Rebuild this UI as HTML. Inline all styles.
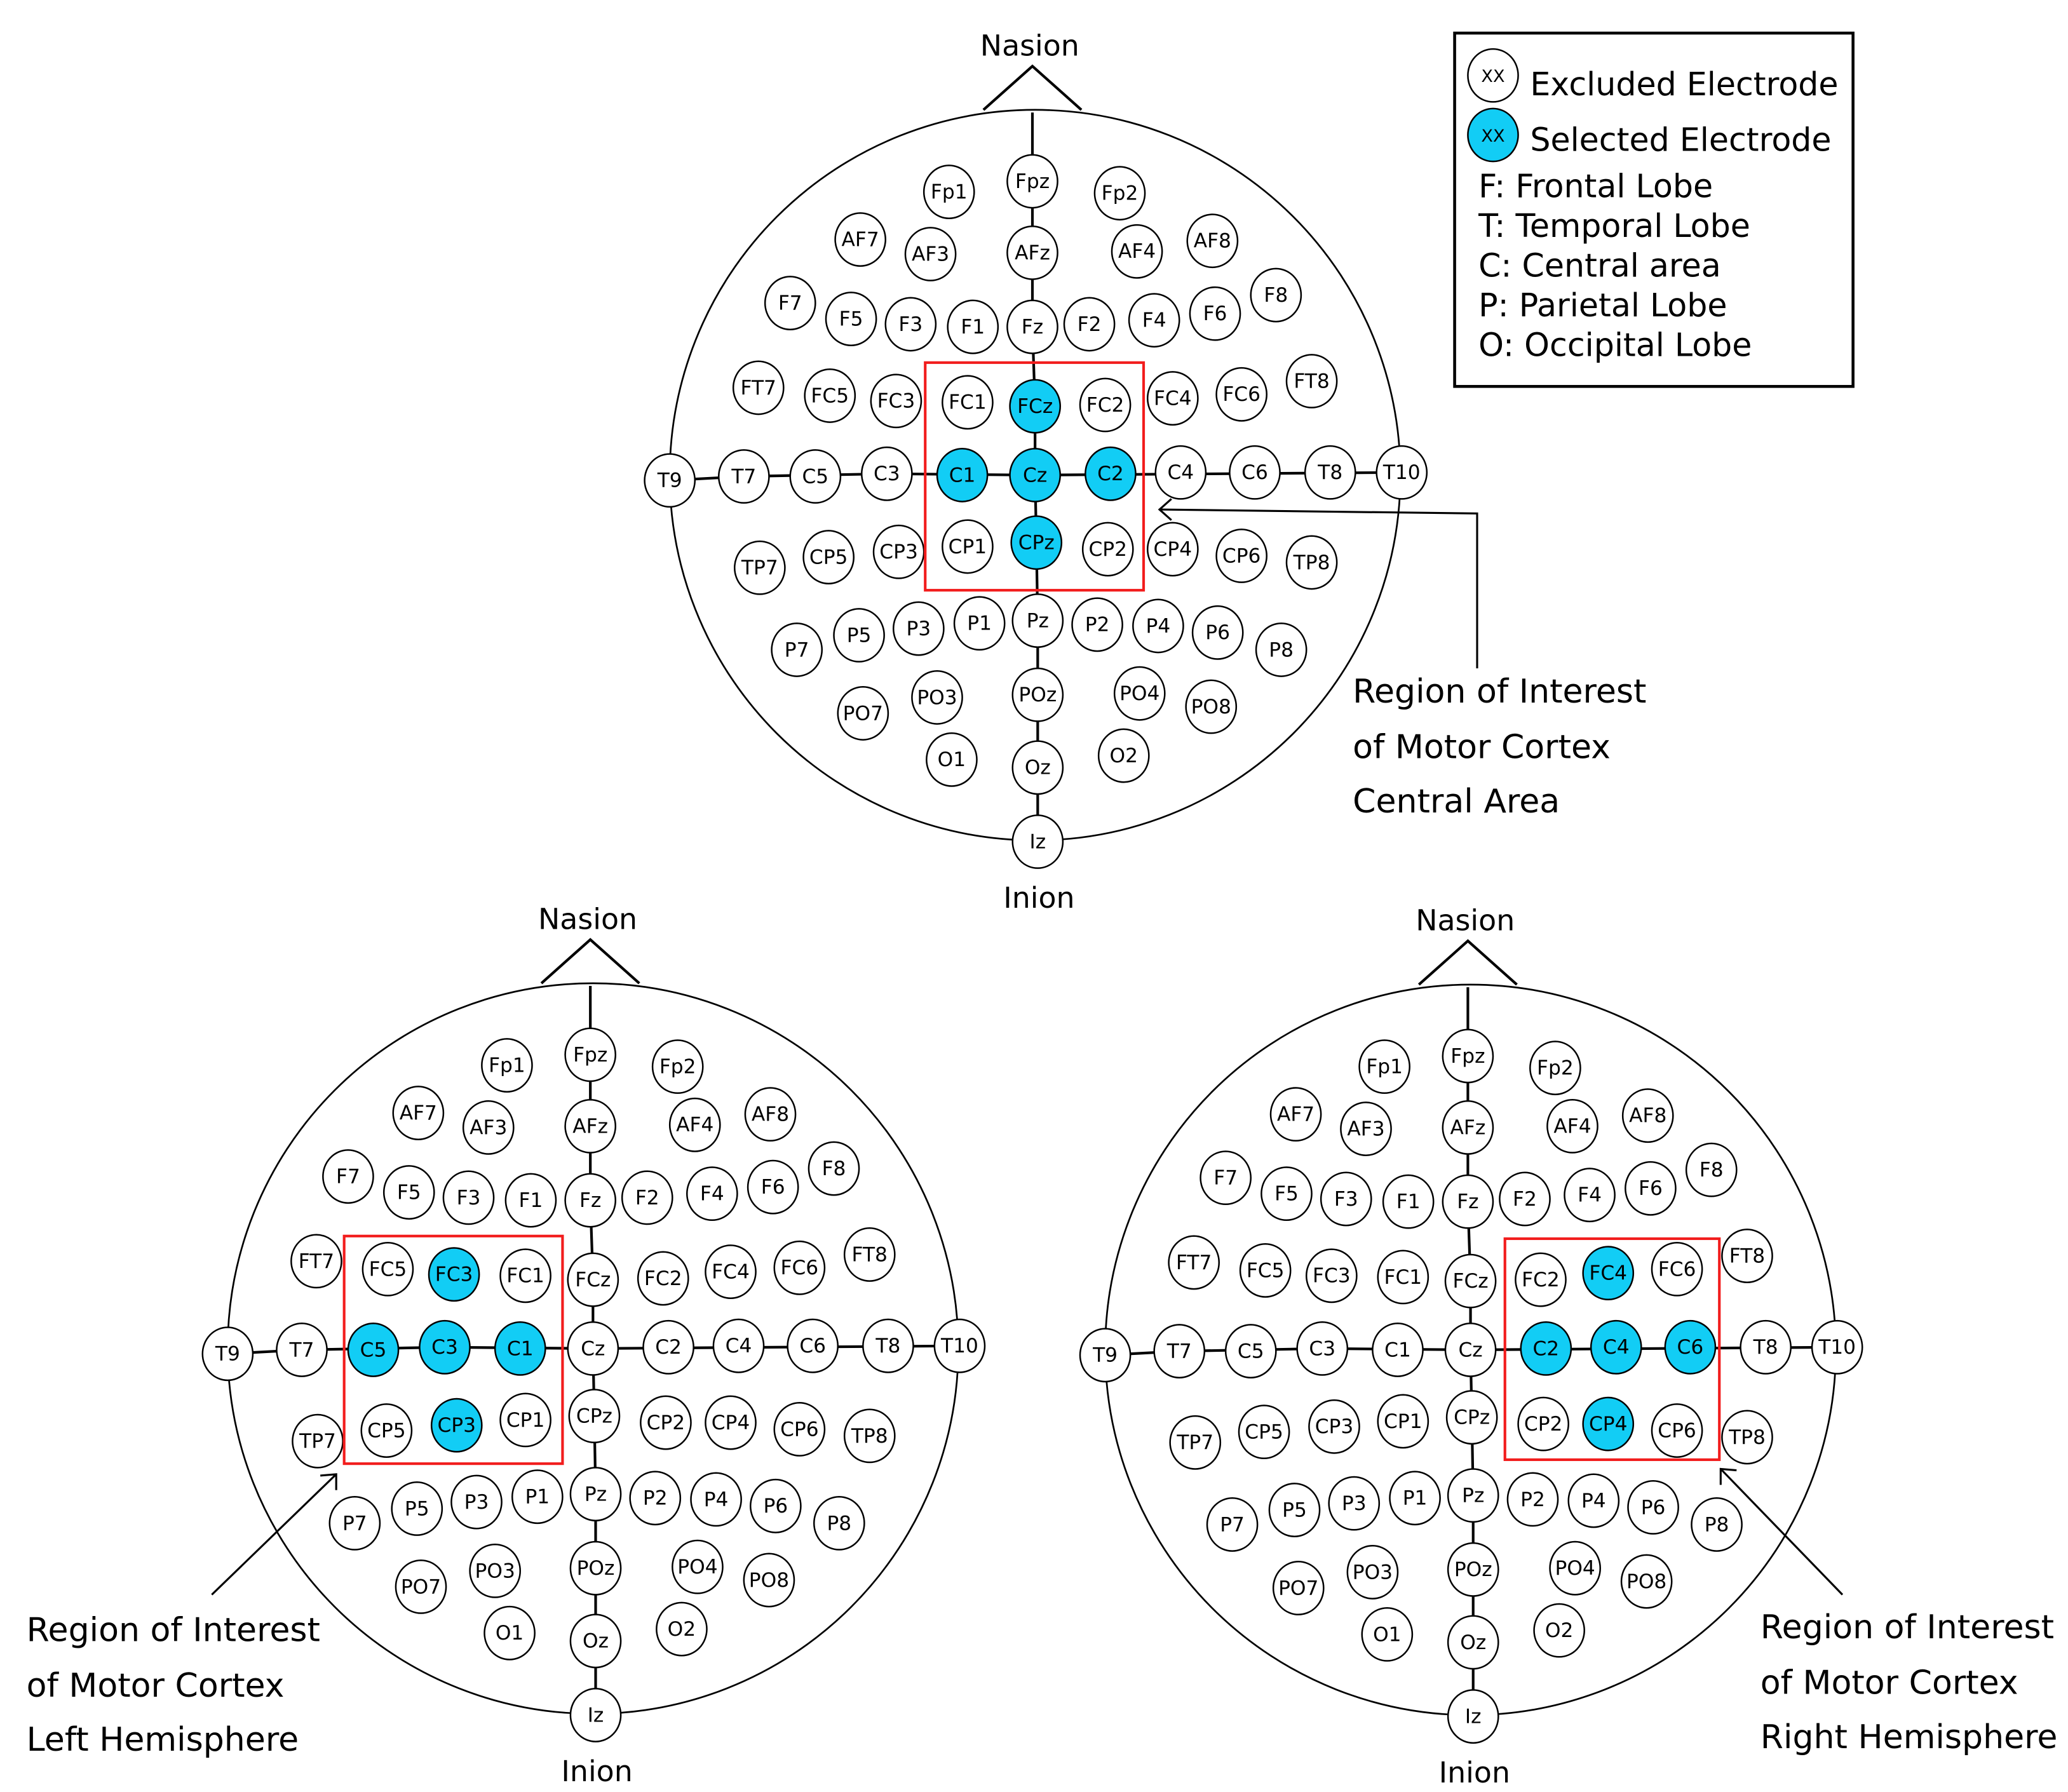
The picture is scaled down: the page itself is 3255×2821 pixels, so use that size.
<!DOCTYPE html>
<html><head><meta charset="utf-8"><style>
html,body{margin:0;padding:0;background:#fff;}
svg{display:block;}
text{font-family:"DejaVu Sans","Liberation Sans",sans-serif;fill:#000;}
</style></head><body>
<svg id="s" width="3255" height="2821" viewBox="0 0 1562.4 1354.1" xmlns="http://www.w3.org/2000/svg">
<rect x="0" y="0" width="1562.4" height="1354.1" fill="#fff"/>
<g id="g"></g>
<!-- legend -->
<rect x="1099" y="25" width="301" height="267" fill="none" stroke="#000" stroke-width="2.2"/>
<ellipse cx="1128" cy="57" rx="19" ry="20" fill="#fff" stroke="#000" stroke-width="1.2"/>
<text x="1128" y="62" font-size="13" text-anchor="middle">XX</text>
<ellipse cx="1128" cy="102" rx="19" ry="20" fill="#12cdf5" stroke="#000" stroke-width="1.2"/>
<text x="1128" y="107" font-size="13" text-anchor="middle">XX</text>
<text x="1156" y="72" font-size="24.3">Excluded Electrode</text>
<text x="1156" y="114" font-size="24.3">Selected Electrode</text>
<text x="1117" y="149" font-size="24.3">F: Frontal Lobe</text>
<text x="1117" y="179" font-size="24.3">T: Temporal Lobe</text>
<text x="1117" y="209" font-size="24.3">C: Central area</text>
<text x="1117" y="239" font-size="24.3">P: Parietal Lobe</text>
<text x="1117" y="269" font-size="24.3">O: Occipital Lobe</text>
</svg>
<script>
var E=[["Fp1",717,145],["Fpz",780,137],["Fp2",846,146],
["AF7",650,181],["AF3",703,192],["AFz",780,191],["AF4",859,190],["AF8",916,182],
["F7",597,229],["F5",643,241],["F3",688,245],["F1",735,247],["Fz",780,247],["F2",823,245],["F4",872,242],["F6",918,237],["F8",964,223],
["FT7",573,293],["FC5",627,299],["FC3",677,303],["FC1",731,304],["FCz",782,307],["FC2",835,306],["FC4",886,301],["FC6",938,298],["FT8",991,288],
["T9",506,363],["T7",562,360],["C5",616,360],["C3",670,358],["C1",727,359],["Cz",782,359],["C2",839,358],["C4",892,357],["C6",948,357],["T8",1005,357],["T10",1059,357],
["TP7",574,429],["CP5",626,421],["CP3",679,417],["CP1",731,413],["CPz",783,410],["CP2",837,415],["CP4",886,415],["CP6",938,420],["TP8",991,425],
["P7",602,491],["P5",649,480],["P3",694,475],["P1",740,471],["Pz",784,469],["P2",829,472],["P4",875,473],["P6",920,478],["P8",968,491],
["PO7",652,539],["PO3",708,527],["POz",784,525],["PO4",861,524],["PO8",915,534],
["O1",719,574],["Oz",784,580],["O2",849,571],["Iz",784,636]];
var heads=[
 {dx:0,dy:0,sel:["FCz","C1","Cz","C2","CPz"],rect:[699,274,165,172],
  arrow:"M1116,505 L1116,388 L876,385",ah:[876,385,"l"],tx:1022,ty:[531,573,614],t3:"Central Area"},
 {dx:-334,dy:660,sel:["FC3","C5","C3","C1","CP3"],rect:[260,934,165,172],
  arrow:"M160,1205 L254,1114",ah:[254,1114,"d"],tx:20,ty:[1240,1282,1323],t3:"Left Hemisphere"},
 {dx:329,dy:661,sel:["FC4","C2","C4","C6","CP4"],rect:[1137,936,162,167],
  arrow:"M1392,1205 L1300,1110",ah:[1300,1110,"d2"],tx:1330,ty:[1238,1280,1321],t3:"Right Hemisphere"}];
var s="";
heads.forEach(function(h){
 var X=function(x){return x+h.dx},Y=function(y){return y+h.dy};
 s+='<circle cx="'+X(782)+'" cy="'+Y(359)+'" r="276" fill="none" stroke="#000" stroke-width="1.3"/>';
 s+='<polyline points="'+X(743)+','+Y(83)+' '+X(780)+','+Y(50)+' '+X(817)+','+Y(83)+'" fill="none" stroke="#000" stroke-width="2"/>';
 s+='<text x="'+X(778)+'" y="'+Y(42)+'" font-size="22" text-anchor="middle">Nasion</text>';
 s+='<text x="'+X(785)+'" y="'+Y(686)+'" font-size="22" text-anchor="middle">Inion</text>';
 s+='<polyline points="'+X(780)+','+Y(85)+' '+X(780)+','+Y(247)+' '+X(782)+','+Y(307)+' '+X(782)+','+Y(359)+' '+X(783)+','+Y(410)+' '+X(784)+','+Y(469)+' '+X(784)+','+Y(636)+'" fill="none" stroke="#000" stroke-width="2"/>';
 s+='<polyline points="'+X(506)+','+Y(363)+' '+X(562)+','+Y(360)+' '+X(670)+','+Y(358)+' '+X(782)+','+Y(359)+' '+X(1059)+','+Y(357)+'" fill="none" stroke="#000" stroke-width="2"/>';
 E.forEach(function(e){
  var f=h.sel.indexOf(e[0])>=0?"#12cdf5":"#fff";
  s+='<ellipse cx="'+X(e[1])+'" cy="'+Y(e[2])+'" rx="19" ry="20" fill="'+f+'" stroke="#000" stroke-width="1.2"/>';
  s+='<text x="'+X(e[1])+'" y="'+(Y(e[2])+5)+'" font-size="15" text-anchor="middle">'+e[0]+'</text>';
 });
 var r=h.rect;
 s+='<rect x="'+r[0]+'" y="'+r[1]+'" width="'+r[2]+'" height="'+r[3]+'" fill="none" stroke="#f21d1d" stroke-width="2"/>';
 s+='<path d="'+h.arrow+'" fill="none" stroke="#000" stroke-width="1.5"/>';
 var a=h.ah;
 if(a[2]=="l") s+='<polyline points="'+(a[0]+9)+','+(a[1]-8)+' '+a[0]+','+a[1]+' '+(a[0]+9)+','+(a[1]+8)+'" fill="none" stroke="#000" stroke-width="1.5"/>';
 else if(a[2]=="d") s+='<polyline points="'+(a[0])+','+(a[1]+12)+' '+a[0]+','+a[1]+' '+(a[0]-12)+','+(a[1]+1)+'" fill="none" stroke="#000" stroke-width="1.5"/>';
 else s+='<polyline points="'+(a[0])+','+(a[1]+12)+' '+a[0]+','+a[1]+' '+(a[0]+12)+','+(a[1]+1)+'" fill="none" stroke="#000" stroke-width="1.5"/>';
 s+='<text x="'+h.tx+'" y="'+h.ty[0]+'" font-size="25">Region of Interest</text>';
 s+='<text x="'+h.tx+'" y="'+h.ty[1]+'" font-size="25">of Motor Cortex</text>';
 s+='<text x="'+h.tx+'" y="'+h.ty[2]+'" font-size="25">'+h.t3+'</text>';
});
document.getElementById("g").innerHTML=s;
</script>
</body></html>
